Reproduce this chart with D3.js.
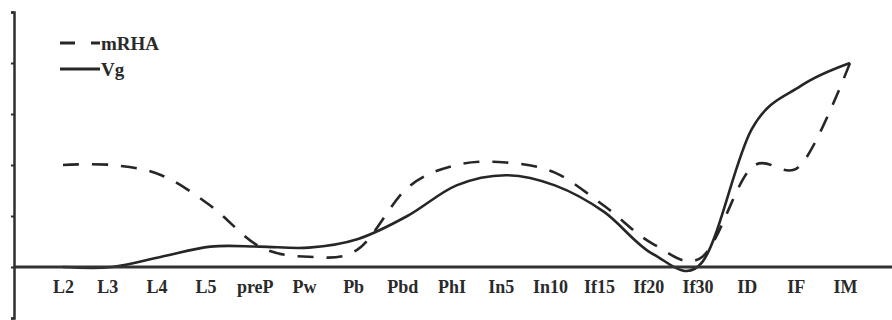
<!DOCTYPE html>
<html>
<head>
<meta charset="utf-8">
<script src="https://cdn.jsdelivr.net/npm/d3@7"></script>
<style>
  html, body { margin: 0; padding: 0; background: #fff; }
  svg { display: block; }
  text { font-family: "Liberation Serif", "Times New Roman", serif; font-weight: bold; fill: #2a2a2a; }
</style>
</head>
<body>
<svg id="chart" width="892" height="320"></svg>
<script>
// Developmental stages along the x axis
const stages = ["L2", "L3", "L4", "L5", "preP", "Pw", "Pb", "Pbd", "PhI", "In5",
                "In10", "If15", "If20", "If30", "ID", "IF", "IM"];

// Relative expression of each series per stage
const mRHA = [2.0, 2.0, 1.8, 1.2, 0.4, 0.2, 0.35, 1.55, 2.0, 2.05,
              1.85, 1.2, 0.45, 0.2, 1.95, 2.0, 4.0];
const Vg   = [0, 0, 0.2, 0.4, 0.4, 0.38, 0.55, 1.0, 1.6, 1.8,
              1.6, 1.08, 0.25, 0.1, 2.7, 3.55, 4.0];

// Y ticks (unlabelled)
const yTicks = [-1, 0, 1, 2, 3, 4, 5];

const series = [
  { name: "mRHA", values: mRHA, dash: "16,13" },
  { name: "Vg",   values: Vg,   dash: null }
];

const W = 892, H = 320;
const svg = d3.select("#chart");

const x = d3.scalePoint().domain(stages).range([63, 850]);
const y = d3.scaleLinear().domain([-1, 5]).range([318, 12]);

const ink = "#262626";

// Smoothed series lines
const line = d3.line()
  .x((d, i) => x(stages[i]))
  .y(d => y(d))
  .curve(d3.curveCardinal.tension(0));

svg.append("g").selectAll("path")
  .data(series)
  .join("path")
  .attr("d", d => line(d.values))
  .attr("fill", "none")
  .attr("stroke", ink)
  .attr("stroke-width", 2.6)
  .attr("stroke-dasharray", d => d.dash)
  .attr("stroke-linejoin", "round");

// Zero line across the plot
svg.append("line")
  .attr("x1", 14).attr("x2", W)
  .attr("y1", y(0)).attr("y2", y(0))
  .attr("stroke", "#333")
  .attr("stroke-width", 3);

// Y axis: plain line with small ticks
const yAxis = svg.append("g")
  .attr("transform", "translate(14,0)")
  .call(d3.axisLeft(y).tickValues(yTicks).tickFormat("").tickSize(3).tickSizeOuter(3));
yAxis.select(".domain").attr("stroke", "#2e2e2e").attr("stroke-width", 2.5);
yAxis.selectAll(".tick line").attr("stroke", "#2e2e2e").attr("stroke-width", 2);

// Stage labels
const xAxis = svg.append("g")
  .attr("transform", `translate(0,${y(0)})`)
  .call(d3.axisBottom(x).tickSize(0).tickPadding(13));
xAxis.select(".domain").remove();
xAxis.selectAll(".tick text")
  .attr("dx", (d, i) => i === 0 ? 0 : -5)
  .style("font-family", "'Liberation Serif', serif")
  .style("font-weight", "bold")
  .style("font-size", "18px")
  .attr("fill", "#2a2a2a");

// Legend
const legend = svg.append("g");
series.forEach((s, i) => {
  const ly = 43 + i * 26;
  legend.append("line")
    .attr("x1", 60).attr("x2", 100)
    .attr("y1", ly).attr("y2", ly)
    .attr("stroke", ink)
    .attr("stroke-width", 3)
    .attr("stroke-dasharray", s.dash ? "15,16" : null);
  legend.append("text")
    .attr("x", 101).attr("y", ly)
    .attr("dy", "0.35em")
    .style("font-size", "19px")
    .text(s.name);
});
</script>
</body>
</html>
